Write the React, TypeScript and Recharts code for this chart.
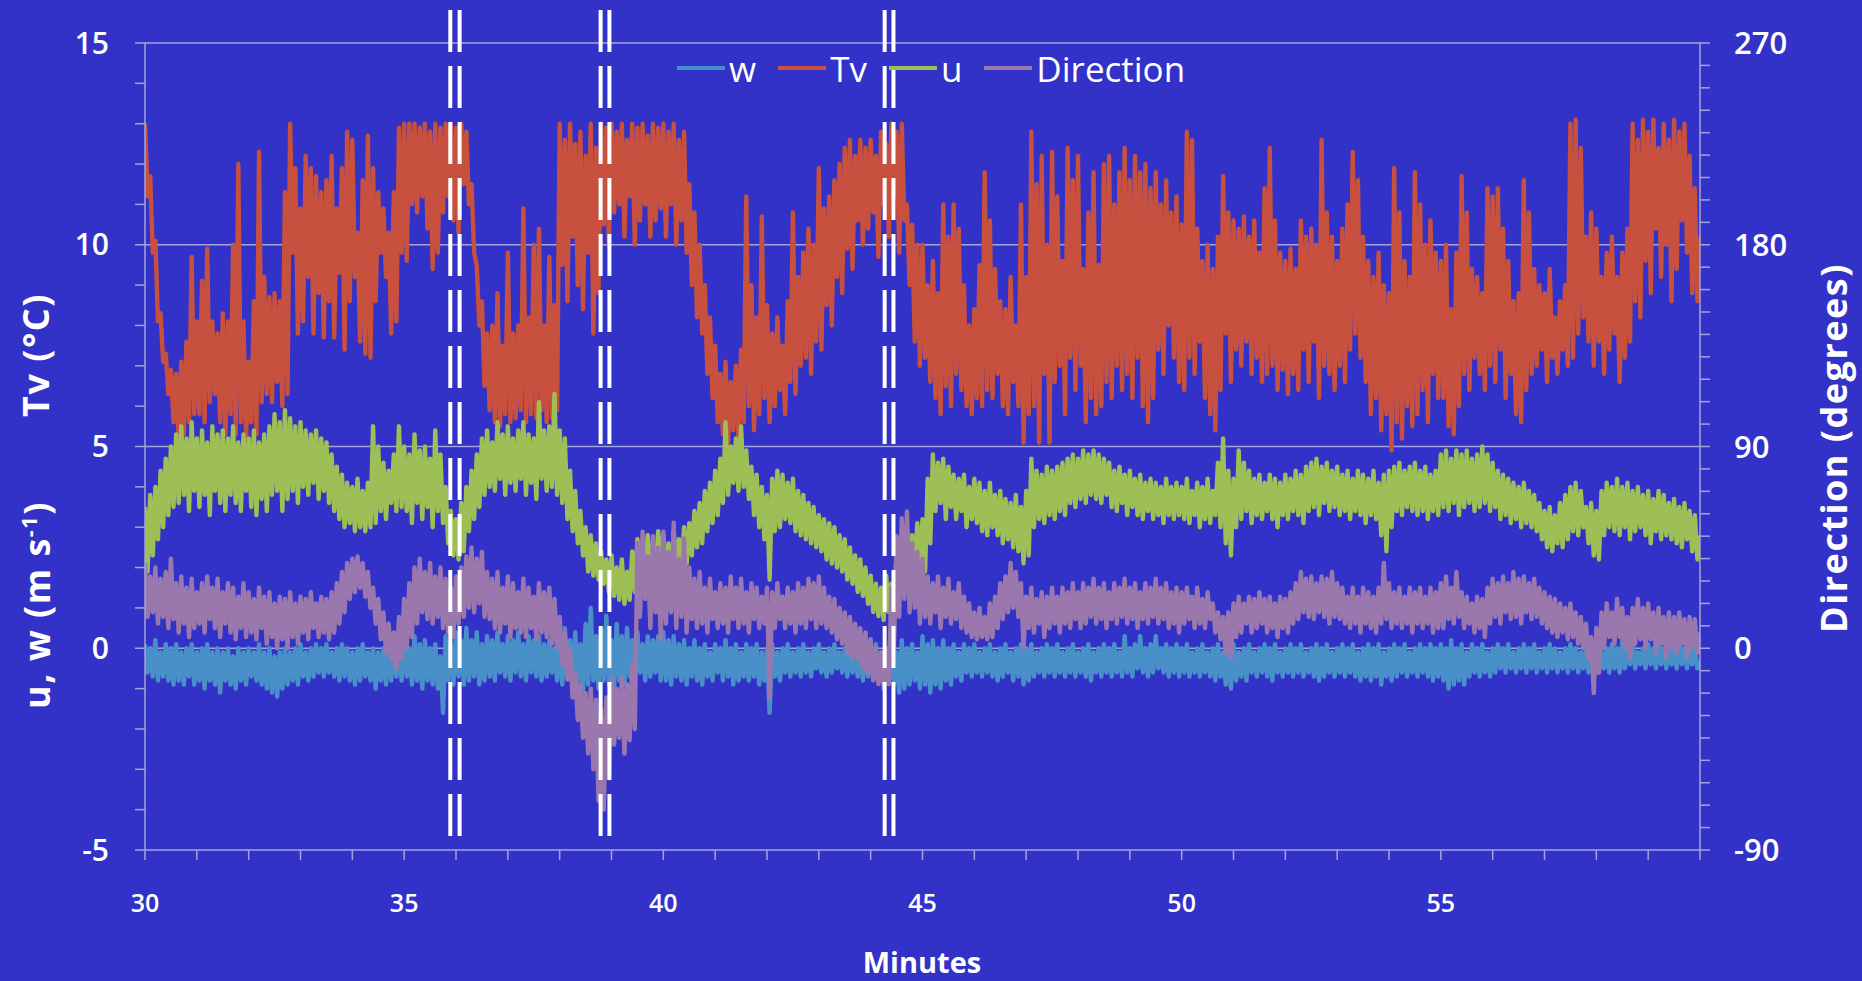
import React from 'react';
import { LineChart, Line, XAxis, YAxis, CartesianGrid, ReferenceLine } from 'recharts';

// Samples every 0.05 min starting at 30 min; consecutive values follow the
// crest and trough of each noisy trace.
const T0 = 30;
const STEP = 0.05;

// w (m/s)
const W = [
  0.1, -0.6, 0.0, -0.7, 0.2, -0.8, -0.1, -0.7, 0.1, -0.8, 0.0, -0.9, 0.1, -0.8, -0.1, -0.9, 0.0, -0.7, 0.1, -0.9,
  -0.1, -0.8, 0.0, -1.0, 0.1, -0.8, -0.1, -0.9, 0.0, -1.1, -0.1, -0.8, 0.0, -0.9, -0.2, -1.0, 0.0, -0.8, -0.1, -0.9,
  0.0, -0.7, -0.1, -0.8, 0.1, -0.9, -0.1, -1.0, 0.0, -1.1, -0.2, -1.2, -0.1, -1.0, 0.0, -0.9, -0.1, -0.8, 0.0, -0.9,
  0.1, -0.7, -0.1, -0.8, 0.0, -0.7, 0.1, -0.6, 0.0, -0.7, 0.1, -0.6, -0.1, -0.7, 0.0, -0.8, 0.1, -0.7, 0.0, -0.8,
  -0.1, -0.9, 0.0, -0.8, 0.1, -0.7, -0.1, -0.8, 0.0, -1.0, -0.1, -0.8, 0.0, -0.9, 0.1, -0.8, 0.0, -0.7, 0.1, -0.8,
  0.2, -0.7, 0.0, -0.9, 0.3, -0.8, 0.1, -1.0, 0.2, -0.8, 0.0, -0.9, 0.1, -1.0, -0.2, -1.6, 0.3, -0.8, 0.1, -0.9,
  0.4, -0.7, 0.2, -0.9, 0.5, -0.8, 0.2, -0.7, 0.4, -0.9, 0.1, -0.8, 0.3, -0.7, 0.2, -0.8, 0.4, -0.6, 0.1, -0.7,
  0.3, -0.8, 0.2, -0.6, 0.4, -0.7, 0.1, -0.8, 0.3, -0.6, 0.2, -0.7, 0.3, -0.8, 0.1, -0.7, 0.2, -0.6, 0.0, -0.8,
  0.3, -0.9, 0.5, -0.7, 0.2, -1.0, 0.4, -0.8, 0.1, -1.1, 0.6, -0.9, 1.0, -0.8, 0.3, -1.0, 0.5, -0.8, 0.8, -0.9,
  0.2, -1.0, 0.6, -0.8, 0.3, -0.9, 0.5, -0.7, 0.2, -0.8, 0.4, -0.6, 0.1, -0.8, 0.3, -0.7, 0.2, -0.6, 0.3, -0.8,
  0.4, -0.8, 0.2, -0.9, 0.3, -0.7, 0.1, -0.8, 0.2, -0.9, 0.0, -0.7, 0.2, -0.8, 0.0, -0.9, 0.1, -0.7, -0.1, -0.8,
  0.1, -0.6, 0.0, -0.8, 0.2, -0.7, 0.0, -0.9, 0.1, -0.8, -0.1, -0.7, 0.1, -0.8, 0.0, -0.7, 0.1, -0.9, -0.1, -0.8,
  0.0, -1.6, 0.1, -0.7, -0.1, -0.8, 0.0, -0.6, 0.1, -0.7, -0.1, -0.6, 0.0, -0.7, 0.1, -0.6, -0.1, -0.7, 0.0, -0.5,
  0.1, -0.6, -0.1, -0.7, 0.0, -0.6, 0.1, -0.5, -0.1, -0.6, 0.0, -0.7, 0.1, -0.6, 0.0, -0.7, 0.1, -0.8, -0.1, -0.7,
  0.0, -0.8, 0.1, -0.7, -0.1, -0.9, 0.0, -0.8, 0.1, -0.9, -0.1, -1.1, 0.2, -1.0, 0.0, -0.9, 0.1, -0.8, -0.1, -1.0,
  0.3, -0.9, 0.1, -1.1, 0.2, -0.9, 0.0, -1.0, 0.2, -0.8, 0.0, -0.9, 0.1, -0.7, -0.1, -0.8, 0.1, -0.6, 0.0, -0.7,
  0.1, -0.6, -0.1, -0.7, 0.0, -0.6, 0.1, -0.7, -0.1, -0.8, 0.0, -0.7, 0.1, -0.6, -0.1, -0.8, 0.0, -0.7, 0.1, -0.9,
  0.0, -0.8, 0.1, -0.7, -0.1, -0.6, 0.0, -0.7, 0.1, -0.6, 0.0, -0.7, 0.1, -0.6, -0.1, -0.7, 0.0, -0.6, 0.1, -0.7,
  -0.1, -0.6, 0.0, -0.7, 0.1, -0.8, -0.1, -0.6, 0.0, -0.7, 0.1, -0.6, 0.0, -0.7, 0.1, -0.6, -0.1, -0.7, 0.3, -0.6,
  0.0, -0.7, 0.1, -0.5, 0.3, -0.6, 0.0, -0.7, 0.1, -0.6, 0.3, -0.5, 0.0, -0.6, 0.1, -0.7, 0.0, -0.6, 0.1, -0.7,
  0.0, -0.6, 0.1, -0.7, -0.1, -0.6, 0.0, -0.7, 0.1, -0.6, -0.1, -0.7, 0.0, -0.8, 0.1, -0.7, -0.1, -0.9, 0.0, -1.0,
  0.1, -0.8, -0.1, -0.7, 0.0, -0.8, 0.1, -0.6, -0.1, -0.7, 0.0, -0.6, 0.1, -0.7, 0.0, -0.8, 0.1, -0.6, -0.1, -0.7,
  0.0, -0.6, 0.1, -0.7, 0.0, -0.6, 0.1, -0.7, -0.1, -0.6, 0.0, -0.7, 0.1, -0.8, 0.0, -0.7, 0.1, -0.6, -0.1, -0.7,
  0.0, -0.6, 0.1, -0.7, 0.0, -0.6, 0.1, -0.7, -0.1, -0.8, 0.0, -0.7, 0.1, -0.8, 0.0, -0.7, 0.1, -0.9, -0.1, -0.7,
  0.0, -0.8, 0.1, -0.7, 0.0, -0.6, 0.1, -0.7, -0.1, -0.6, 0.0, -0.7, 0.1, -0.6, 0.0, -0.7, 0.1, -0.8, 0.0, -0.7,
  0.1, -0.8, 0.0, -1.0, 0.2, -0.9, 0.0, -0.8, 0.1, -0.9, -0.1, -0.7, 0.1, -0.6, 0.0, -0.7, 0.1, -0.6, -0.1, -0.7,
  0.0, -0.6, 0.1, -0.5, 0.0, -0.6, 0.1, -0.5, -0.1, -0.6, 0.0, -0.5, 0.1, -0.6, 0.0, -0.5, 0.1, -0.6, -0.1, -0.5,
  0.0, -0.6, 0.1, -0.5, 0.0, -0.6, -0.1, -0.5, 0.0, -0.6, 0.1, -0.5, 0.0, -0.6, -0.1, -0.5, 0.0, -0.6, 0.1, -0.5,
  0.0, -0.6, -0.1, -0.5, 0.0, -0.6, 0.1, -0.5, 0.0, -0.6, 0.2, -0.5, 0.0, -0.4, 0.1, -0.5, -0.1, -0.4, 0.0, -0.5,
  0.1, -0.4, 0.0, -0.5, 0.2, -0.4, 0.0, -0.5, 0.1, -0.4, 0.0, -0.5, 0.2, -0.4, 0.0, -0.5, 0.1, -0.4, 0.0, -0.5,
  -0.3,
];

// Tv (°C)
const TV = [
  13.0, 11.2, 11.7, 9.8, 10.1, 8.1, 8.3, 7.1, 7.3, 6.3, 6.9, 5.6, 6.8, 5.2, 7.1, 5.3, 7.6, 5.6, 9.7, 5.8,
  8.1, 5.8, 9.1, 5.6, 9.9, 6.1, 8.1, 6.3, 7.8, 5.6, 8.3, 5.3, 8.1, 5.8, 10.0, 5.3, 12.0, 5.6, 8.1, 5.2,
  7.1, 5.6, 8.6, 5.3, 12.3, 6.1, 9.2, 6.3, 8.7, 6.1, 8.8, 6.6, 8.6, 6.0, 11.3, 6.3, 13.0, 9.8, 11.9, 7.8,
  10.9, 8.1, 12.2, 9.2, 11.9, 7.8, 11.7, 8.8, 11.3, 7.7, 11.6, 8.6, 12.2, 7.7, 10.9, 9.3, 11.9, 7.4, 12.8, 8.6,
  12.6, 9.2, 10.3, 7.6, 11.6, 7.3, 12.7, 7.2, 11.9, 8.6, 11.3, 9.8, 10.9, 9.2, 10.3, 7.8, 11.3, 8.1, 12.9, 9.8,
  13.0, 9.6, 13.0, 11.0, 13.0, 10.8, 12.9, 11.2, 13.0, 10.4, 12.8, 9.4, 13.0, 9.8, 12.9, 10.8, 13.0, 11.2, 13.0, 10.6,
  12.9, 10.3, 13.0, 11.5, 12.8, 11.0, 11.5, 9.8, 9.5, 8.0, 8.6, 6.5, 7.8, 5.9, 8.0, 5.6, 8.8, 5.5, 7.5, 5.8,
  9.8, 5.6, 7.8, 5.7, 8.0, 5.9, 10.9, 5.6, 8.2, 5.8, 10.0, 5.7, 10.4, 5.9, 8.0, 5.6, 9.7, 5.7, 8.5, 5.9,
  13.0, 9.5, 12.6, 8.6, 13.0, 10.2, 12.5, 9.0, 12.8, 8.4, 12.2, 9.8, 13.0, 7.8, 12.4, 8.8, 13.0, 10.5, 12.9, 10.0,
  13.0, 10.8, 12.8, 11.0, 13.0, 10.2, 12.6, 11.2, 13.0, 10.0, 12.9, 10.6, 13.0, 11.0, 12.7, 10.2, 13.0, 10.6, 12.9, 10.9,
  13.0, 10.2, 12.8, 11.0, 13.0, 10.0, 12.6, 10.6, 12.8, 9.8, 11.5, 9.0, 10.8, 8.2, 10.0, 7.8, 9.0, 6.8, 8.2, 6.2,
  7.5, 5.6, 6.8, 5.3, 7.1, 5.1, 6.6, 5.4, 7.0, 5.2, 7.4, 5.6, 11.2, 6.0, 9.0, 5.4, 8.2, 5.8, 10.7, 6.2,
  8.5, 5.6, 7.8, 6.0, 8.2, 6.4, 7.5, 5.8, 8.6, 6.6, 10.8, 6.3, 9.2, 7.0, 9.8, 7.2, 10.4, 6.8, 10.0, 7.6,
  11.9, 7.4, 10.9, 8.5, 11.2, 8.0, 11.6, 9.2, 12.0, 8.8, 12.4, 9.9, 12.6, 9.4, 12.2, 10.6, 12.6, 10.0, 12.4, 10.4,
  12.6, 10.8, 12.2, 9.7, 12.8, 11.0, 12.5, 10.2, 13.0, 11.2, 12.8, 9.8, 13.0, 10.6, 11.0, 9.0, 10.5, 7.6, 10.0, 7.0,
  10.0, 7.2, 9.0, 6.6, 9.6, 6.2, 8.8, 5.8, 11.0, 6.5, 10.2, 6.0, 11.0, 6.8, 10.4, 6.4, 9.0, 6.0, 8.0, 5.8,
  8.4, 6.2, 9.5, 6.0, 11.8, 6.4, 10.6, 6.2, 9.4, 6.8, 8.6, 6.0, 8.4, 5.8, 9.2, 6.6, 8.0, 6.0, 11.0, 5.1,
  9.2, 5.8, 12.8, 6.0, 11.5, 5.1, 12.2, 6.8, 10.0, 5.1, 12.3, 6.6, 11.2, 7.0, 9.6, 5.8, 12.4, 7.2, 11.6, 6.4,
  12.2, 7.0, 9.4, 5.6, 10.8, 6.2, 11.8, 5.8, 9.5, 6.0, 12.0, 6.6, 12.2, 6.2, 11.0, 7.0, 11.8, 6.4, 12.4, 6.8,
  11.6, 6.2, 12.2, 7.2, 11.8, 6.0, 12.0, 5.6, 11.4, 6.2, 11.8, 7.4, 11.0, 6.8, 11.6, 8.0, 10.8, 7.2, 11.2, 6.6,
  10.5, 6.4, 12.8, 7.2, 12.6, 6.8, 10.4, 7.6, 9.6, 6.2, 10.0, 5.8, 9.4, 5.4, 10.2, 6.4, 11.7, 7.8, 10.8, 6.6,
  10.6, 7.4, 10.4, 7.0, 10.7, 7.6, 10.2, 6.8, 10.6, 7.2, 9.8, 6.6, 11.4, 6.8, 12.4, 7.0, 10.6, 6.4, 9.8, 6.9,
  9.6, 6.3, 9.9, 6.8, 9.4, 6.4, 10.6, 7.4, 10.2, 6.6, 10.4, 7.6, 10.0, 6.2, 12.6, 7.0, 10.8, 6.8, 10.2, 6.4,
  9.6, 7.0, 10.4, 6.6, 11.0, 7.4, 12.3, 7.8, 11.6, 7.2, 10.2, 6.6, 9.6, 5.8, 9.2, 6.2, 9.8, 5.4, 9.0, 5.8,
  8.8, 4.9, 11.9, 5.6, 10.8, 5.2, 9.6, 6.0, 9.2, 5.5, 11.8, 5.8, 11.0, 6.4, 10.0, 5.6, 10.6, 6.8, 9.8, 6.2,
  9.6, 6.2, 10.0, 5.5, 8.4, 5.3, 9.8, 6.0, 11.7, 6.8, 10.8, 6.4, 9.4, 7.2, 9.2, 6.8, 8.8, 6.4, 11.4, 7.0,
  11.2, 6.6, 11.4, 7.4, 10.4, 6.2, 9.6, 6.8, 8.6, 5.8, 8.8, 5.6, 11.6, 6.4, 10.8, 6.8, 9.4, 7.0, 9.0, 7.4,
  8.8, 6.6, 9.4, 7.2, 8.2, 6.8, 8.6, 7.4, 9.0, 7.0, 13.0, 7.2, 13.1, 7.8, 12.4, 8.2, 10.2, 7.6, 10.8, 7.0,
  10.4, 7.6, 9.2, 6.8, 9.8, 7.4, 10.2, 7.8, 9.2, 6.6, 9.8, 7.2, 10.4, 7.6, 13.0, 8.6, 12.6, 8.2, 13.1, 9.6,
  12.8, 8.8, 13.1, 10.4, 12.4, 9.2, 13.0, 10.0, 12.6, 8.6, 13.1, 9.4, 12.8, 10.6, 13.0, 9.8, 12.2, 8.8, 11.4, 8.6,
  10.2,
];

// u (m/s)
const U = [
  3.5, 1.9, 3.8, 2.3, 4.0, 2.7, 4.4, 3.0, 4.7, 3.3, 5.0, 3.5, 5.3, 3.6, 5.5, 3.8, 5.2, 3.4, 5.6, 3.9,
  5.2, 3.5, 5.4, 3.8, 5.1, 3.3, 5.5, 3.9, 5.3, 3.6, 5.4, 3.4, 5.2, 3.8, 5.5, 3.6, 5.1, 3.4, 5.3, 3.9,
  5.2, 3.5, 5.4, 3.3, 5.1, 3.7, 5.3, 3.4, 5.5, 3.8, 5.8, 3.9, 5.6, 3.4, 5.9, 3.7, 5.7, 3.9, 5.5, 3.6,
  5.6, 4.0, 5.4, 3.8, 5.3, 4.1, 5.4, 3.7, 5.2, 3.9, 5.1, 3.6, 4.8, 3.4, 4.5, 3.2, 4.3, 3.0, 4.1, 3.1,
  4.0, 2.9, 4.2, 3.0, 3.9, 2.9, 4.1, 3.0, 5.5, 3.1, 5.0, 3.4, 4.6, 3.2, 4.4, 3.6, 4.8, 3.4, 5.5, 3.5,
  5.0, 3.4, 4.8, 3.1, 5.3, 3.6, 4.9, 3.2, 5.0, 3.5, 4.7, 3.0, 5.4, 3.4, 4.8, 3.1, 4.0, 2.6, 3.4, 2.3,
  3.2, 2.2, 3.6, 2.4, 4.0, 2.9, 4.4, 3.2, 4.8, 3.5, 5.2, 3.8, 5.4, 4.0, 5.1, 3.9, 5.6, 4.2, 5.3, 3.8,
  5.5, 4.1, 5.2, 3.9, 5.4, 4.2, 5.6, 3.8, 5.3, 4.1, 5.2, 3.7, 6.1, 4.2, 5.4, 3.9, 5.5, 4.0, 6.3, 3.8,
  5.4, 3.6, 5.2, 3.2, 4.4, 2.9, 3.9, 2.6, 3.4, 2.3, 3.0, 1.9, 2.8, 1.8, 2.6, 1.7, 2.4, 1.6, 2.2, 1.4,
  2.3, 1.3, 2.0, 1.2, 2.2, 1.1, 1.9, 1.2, 2.4, 1.4, 2.7, 1.8, 2.6, 2.0, 2.8, 1.9, 2.6, 1.8, 2.9, 2.0,
  2.8, 1.9, 2.6, 1.8, 2.9, 1.9, 2.7, 2.0, 3.0, 2.1, 3.1, 2.3, 3.4, 2.5, 3.6, 2.6, 3.9, 2.9, 4.1, 3.1,
  4.4, 3.3, 4.7, 3.6, 5.6, 3.8, 5.0, 4.1, 5.2, 3.9, 5.5, 4.0, 4.9, 3.7, 4.5, 3.3, 4.3, 3.0, 4.0, 2.7,
  3.8, 1.7, 4.2, 2.9, 4.4, 3.0, 4.3, 3.2, 4.1, 3.1, 4.2, 2.9, 3.9, 2.8, 3.8, 2.7, 3.6, 2.6, 3.5, 2.5,
  3.3, 2.4, 3.2, 2.2, 3.1, 2.1, 3.0, 2.0, 2.8, 1.9, 2.7, 1.7, 2.5, 1.6, 2.3, 1.4, 2.2, 1.3, 2.0, 1.1,
  1.8, 0.9, 1.6, 0.8, 1.5, 0.7, 1.8, 0.9, 1.6, 0.9, 2.4, 1.4, 2.8, 1.8, 3.0, 2.0, 2.8, 1.9, 3.1, 2.0,
  3.2, 1.9, 4.2, 2.6, 4.8, 3.4, 4.6, 3.6, 4.7, 3.2, 4.5, 3.5, 4.3, 3.2, 4.2, 3.4, 4.3, 3.0, 4.0, 3.2,
  4.2, 3.1, 4.1, 2.9, 3.9, 2.8, 4.1, 3.0, 3.8, 2.8, 3.9, 2.6, 3.7, 2.7, 3.6, 2.5, 3.8, 2.4, 3.5, 2.1,
  3.9, 2.3, 4.7, 3.0, 4.4, 3.2, 4.3, 3.1, 4.5, 3.3, 4.4, 3.2, 4.5, 3.4, 4.6, 3.3, 4.7, 3.6, 4.8, 3.5,
  4.7, 3.7, 4.9, 3.6, 4.8, 3.8, 4.9, 3.7, 4.8, 3.6, 4.7, 3.8, 4.6, 3.5, 4.4, 3.4, 4.5, 3.6, 4.3, 3.3,
  4.4, 3.5, 4.2, 3.3, 4.3, 3.2, 4.1, 3.4, 4.2, 3.2, 4.1, 3.3, 4.0, 3.1, 4.2, 3.3, 4.0, 3.2, 4.1, 3.3,
  4.0, 3.2, 4.2, 3.1, 3.9, 3.3, 4.1, 3.0, 4.0, 3.2, 4.2, 3.1, 3.9, 3.3, 4.6, 3.0, 5.2, 2.6, 4.4, 2.3,
  4.2, 3.0, 4.9, 3.2, 4.6, 3.4, 4.4, 3.1, 4.2, 3.3, 4.3, 3.2, 4.1, 3.4, 4.3, 3.2, 4.2, 3.0, 4.1, 3.3,
  4.3, 3.2, 4.2, 3.4, 4.4, 3.3, 4.3, 3.1, 4.5, 3.4, 4.6, 3.5, 4.7, 3.3, 4.5, 3.6, 4.6, 3.4, 4.4, 3.5,
  4.5, 3.3, 4.3, 3.4, 4.4, 3.2, 4.2, 3.4, 4.4, 3.3, 4.3, 3.1, 4.2, 3.3, 4.4, 3.2, 4.1, 2.8, 4.3, 2.4,
  4.4, 3.0, 4.5, 3.4, 4.6, 3.3, 4.4, 3.5, 4.5, 3.4, 4.6, 3.3, 4.4, 3.4, 4.5, 3.2, 4.3, 3.4, 4.4, 3.3,
  4.8, 3.5, 4.9, 3.4, 4.7, 3.6, 4.9, 3.3, 4.8, 3.5, 4.9, 3.6, 4.7, 3.4, 4.8, 3.5, 5.0, 3.6, 4.8, 3.4,
  4.6, 3.5, 4.4, 3.2, 4.3, 3.3, 4.2, 3.1, 4.1, 3.2, 4.0, 3.0, 4.1, 3.1, 3.9, 3.0, 3.8, 2.9, 3.6, 2.7,
  3.4, 2.5, 3.5, 2.4, 3.3, 2.6, 3.6, 2.5, 3.8, 2.7, 4.0, 2.9, 4.1, 2.8, 3.9, 3.0, 3.5, 2.6, 3.6, 2.3,
  3.4, 2.2, 3.9, 2.8, 4.1, 3.0, 4.0, 2.9, 4.2, 2.8, 4.0, 3.0, 4.1, 2.7, 3.9, 2.9, 4.0, 3.0, 3.8, 2.8,
  3.9, 2.6, 3.7, 2.9, 3.9, 2.7, 3.8, 2.8, 3.6, 2.7, 3.7, 2.6, 3.5, 2.5, 3.6, 2.7, 3.4, 2.4, 3.3, 2.2,
  2.8,
];

// Direction (degrees), right axis
const DIR = [
  38, 14, 32, 16, 36, 11, 31, 14, 34, 9, 40, 13, 29, 7, 32, 11, 27, 5, 31, 9,
  25, 11, 29, 7, 32, 13, 27, 9, 31, 5, 25, 11, 29, 7, 27, 4, 23, 9, 29, 5,
  25, 7, 22, 4, 27, 9, 23, 2, 25, 5, 20, 0, 23, 4, 22, 0, 25, 5, 20, 2,
  23, 7, 22, 4, 25, 9, 20, 5, 23, 7, 22, 4, 25, 7, 29, 11, 34, 16, 38, 22,
  40, 25, 41, 27, 38, 23, 34, 18, 27, 11, 22, 4, 16, -2, 11, -5, 7, -9, 14, -5,
  22, 0, 29, 5, 36, 11, 40, 16, 34, 13, 38, 11, 32, 14, 36, 9, 31, 7, 27, 5,
  32, 11, 36, 14, 41, 18, 45, 16, 40, 20, 43, 14, 34, 13, 31, 9, 34, 7, 27, 11,
  32, 5, 29, 9, 25, 7, 31, 5, 27, 9, 23, 4, 29, 7, 25, 5, 27, 2, 22, 0,
  14, -7, 7, -14, 0, -22, -11, -32, -16, -40, -20, -47, -18, -54, -23, -68, -27, -72, -22, -58,
  -14, -43, -18, -40, -13, -47, -16, -41, -7, -36, 47, 14, 52, 22, 41, 9, 50, 16, 45, 4,
  52, 11, 43, 16, 56, 9, 40, 14, 49, 7, 36, 13, 31, 9, 34, 11, 27, 7, 31, 13,
  25, 9, 29, 11, 27, 7, 32, 13, 27, 9, 31, 11, 25, 7, 29, 13, 27, 9, 23, 11,
  27, -22, 25, 9, 29, 13, 23, 9, 27, 11, 25, 7, 29, 11, 27, 9, 31, 13, 29, 9,
  32, 11, 27, 9, 23, 7, 22, 4, 18, 2, 16, -2, 14, -4, 11, -5, 9, -9, 7, -11,
  4, -14, 0, -16, -2, -18, 0, -16, 27, 0, 50, 14, 58, 22, 61, 16, 47, 18, 43, 11,
  40, 14, 32, 11, 29, 16, 32, 9, 27, 14, 31, 11, 25, 13, 29, 9, 23, 7, 20, 5,
  16, 4, 18, 5, 14, 4, 20, 5, 23, 9, 29, 13, 32, 16, 38, 18, 34, 14, 29, 0,
  23, 9, 27, 7, 22, 11, 25, 5, 23, 9, 27, 11, 23, 7, 27, 11, 25, 9, 29, 13,
  25, 9, 29, 11, 27, 14, 31, 11, 27, 13, 29, 9, 25, 13, 29, 11, 27, 14, 31, 11,
  27, 13, 29, 9, 25, 13, 29, 11, 27, 14, 31, 11, 27, 13, 29, 9, 25, 11, 27, 7,
  25, 11, 27, 13, 23, 9, 27, 11, 22, 9, 25, 13, 20, 7, 16, 4, 14, -2, 16, -4,
  20, 5, 23, 7, 20, 11, 23, 7, 22, 9, 25, 11, 22, 7, 23, 9, 20, 5, 23, 9,
  22, 7, 25, 11, 29, 13, 34, 16, 31, 14, 32, 13, 29, 16, 32, 14, 31, 11, 34, 14,
  29, 13, 27, 11, 23, 9, 27, 11, 23, 7, 27, 11, 25, 9, 23, 7, 27, 11, 38, 13,
  29, 9, 25, 11, 27, 9, 23, 11, 27, 7, 25, 11, 27, 9, 23, 11, 27, 7, 25, 9,
  29, 9, 32, 13, 27, 11, 34, 14, 25, 9, 23, 11, 20, 7, 23, 9, 22, 5, 27, 11,
  31, 14, 29, 11, 32, 16, 29, 13, 34, 14, 31, 11, 32, 16, 29, 13, 31, 14, 27, 11,
  25, 9, 23, 7, 22, 5, 20, 7, 18, 4, 20, 5, 16, 2, 14, 0, 11, -5, 5, -20,
  9, -11, 16, 0, 20, 5, 16, 2, 22, 5, 18, 0, 14, -4, 18, 2, 22, 4, 18, 0,
  20, 4, 16, -2, 18, 2, 14, -4, 16, 0, 14, -2, 16, 2, 13, -4, 14, 0, 13, -2,
  7,
];

const X_TICKS = [30, 31, 32, 33, 34, 35, 36, 37, 38, 39, 40, 41, 42, 43, 44, 45, 46, 47, 48, 49, 50, 51, 52, 53, 54, 55, 56, 57, 58, 59, 60];
const X_LABELS = [30, 35, 40, 45, 50, 55];
const LEFT_TICKS = [-5, -4, -3, -2, -1, 0, 1, 2, 3, 4, 5, 6, 7, 8, 9, 10, 11, 12, 13, 14, 15];
const LEFT_LABELS = [-5, 0, 5, 10, 15];
const RIGHT_TICKS = [
  -90, -80, -70, -60, -50, -40, -30, -20, -10, 0, 10, 20, 30, 40, 50, 60, 70, 80, 90,
  100, 110, 120, 130, 140, 150, 160, 170, 180, 190, 200, 210, 220, 230, 240, 250, 260, 270,
];
const RIGHT_LABELS = [-90, 0, 90, 180, 270];
const GRID_VALUES = [0, 5, 10, 15];

// double dashed markers (minutes)
const MARKERS = [35.89, 36.07, 38.79, 38.96, 44.27, 44.44];
const MARKER_SPAN = [15.82, -4.68];

const SERIES = [
  { key: 'w', name: 'w', color: '#4A90C8', axis: 'left' },
  { key: 'tv', name: 'Tv', color: '#C8503F', axis: 'left' },
  { key: 'u', name: 'u', color: '#9DBF55', axis: 'left' },
  { key: 'dir', name: 'Direction', color: '#9A78AE', axis: 'right' },
];

const BG = '#3232C8';
const AXIS = '#A4A4D8';
const FONT = '"Open Sans", "DejaVu Sans", sans-serif';

const data = TV.map((_, i) => ({
  t: T0 + i * STEP,
  w: W[i],
  tv: TV[i],
  u: U[i],
  dir: DIR[i],
}));

const only = (labels: number[]) => (v: number) => (labels.includes(v) ? String(v) : '');

function ChartLegend() {
  return (
    <div
      style={{
        position: 'absolute',
        left: 677,
        top: 44,
        height: 48,
        display: 'flex',
        alignItems: 'center',
        fontFamily: FONT,
        fontSize: 35,
        color: '#fff',
      }}
    >
      {SERIES.map((s) => (
        <div key={s.key} style={{ display: 'flex', alignItems: 'center', marginRight: 22 }}>
          <span style={{ display: 'inline-block', width: 48, height: 4, background: s.color, marginRight: 4 }} />
          <span style={{ lineHeight: 1 }}>{s.name}</span>
        </div>
      ))}
    </div>
  );
}

function VerticalTitle({ x, y, children }: { x: number; y: number; children: React.ReactNode }) {
  return (
    <div
      style={{
        position: 'absolute',
        left: x,
        top: y,
        transform: 'translate(-50%, -50%) rotate(-90deg)',
        whiteSpace: 'nowrap',
        color: '#fff',
        fontFamily: FONT,
        fontWeight: 700,
        fontSize: 36,
        letterSpacing: 1.5,
        lineHeight: 1,
      }}
    >
      {children}
    </div>
  );
}

export default function App() {
  const tickStyle = { fill: '#fff', fontFamily: FONT, fontWeight: 600 };
  return (
    <div
      style={{
        position: 'fixed',
        left: 0,
        top: 0,
        width: 1862,
        height: 981,
        background: BG,
        overflow: 'hidden',
      }}
    >
      <LineChart
        width={1862}
        height={981}
        data={data}
        margin={{ top: 43, right: 62, bottom: 31, left: 45 }}
        style={{ position: 'absolute', left: 0, top: 0 }}
      >
        <CartesianGrid
          yAxisId="left"
          vertical={false}
          horizontalValues={GRID_VALUES}
          stroke={AXIS}
          strokeWidth={1.5}
        />
        <XAxis
          dataKey="t"
          type="number"
          domain={[30, 60]}
          ticks={X_TICKS}
          interval={0}
          allowDataOverflow
          tickFormatter={only(X_LABELS)}
          height={100}
          tickSize={10}
          tickMargin={34}
          stroke={AXIS}
          strokeWidth={1.5}
          tick={{ ...tickStyle, fontSize: 25 }}
        />
        <YAxis
          yAxisId="left"
          domain={[-5, 15]}
          ticks={LEFT_TICKS}
          interval={0}
          allowDataOverflow
          tickFormatter={only(LEFT_LABELS)}
          width={100}
          tickSize={10}
          tickMargin={26}
          stroke={AXIS}
          strokeWidth={1.5}
          tick={{ ...tickStyle, fontSize: 30 }}
        />
        <YAxis
          yAxisId="right"
          orientation="right"
          domain={[-90, 270]}
          ticks={RIGHT_TICKS}
          interval={0}
          allowDataOverflow
          tickFormatter={only(RIGHT_LABELS)}
          width={100}
          tickSize={10}
          tickMargin={24}
          stroke={AXIS}
          strokeWidth={1.5}
          tick={{ ...tickStyle, fontSize: 31 }}
        />
        {SERIES.map((s) => (
          <Line
            key={s.key}
            yAxisId={s.axis}
            type="linear"
            dataKey={s.key}
            name={s.name}
            stroke={s.color}
            strokeWidth={4.4}
            strokeLinejoin="round"
            dot={false}
            activeDot={false}
            isAnimationActive={false}
          />
        ))}
        {MARKERS.map((m) => (
          <ReferenceLine
            key={m}
            yAxisId="left"
            segment={[
              { x: m, y: MARKER_SPAN[0] },
              { x: m, y: MARKER_SPAN[1] },
            ]}
            ifOverflow="visible"
            stroke="#FFFFFF"
            strokeWidth={4}
            strokeDasharray="42 14"
            zIndex={1000}
          />
        ))}
      </LineChart>
      <ChartLegend />
      <VerticalTitle x={36} y={355}>Tv (°C)</VerticalTitle>
      <VerticalTitle x={36} y={605}>
        u, w (m s<sup style={{ fontSize: '0.6em' }}>-1</sup>)
      </VerticalTitle>
      <VerticalTitle x={1834} y={448}>Direction (degrees)</VerticalTitle>
      <div
        style={{
          position: 'absolute',
          left: 922,
          top: 962,
          transform: 'translate(-50%, -50%)',
          color: '#fff',
          fontFamily: FONT,
          fontWeight: 700,
          fontSize: 29,
          lineHeight: 1.1,
        }}
      >
        Minutes
      </div>
    </div>
  );
}
